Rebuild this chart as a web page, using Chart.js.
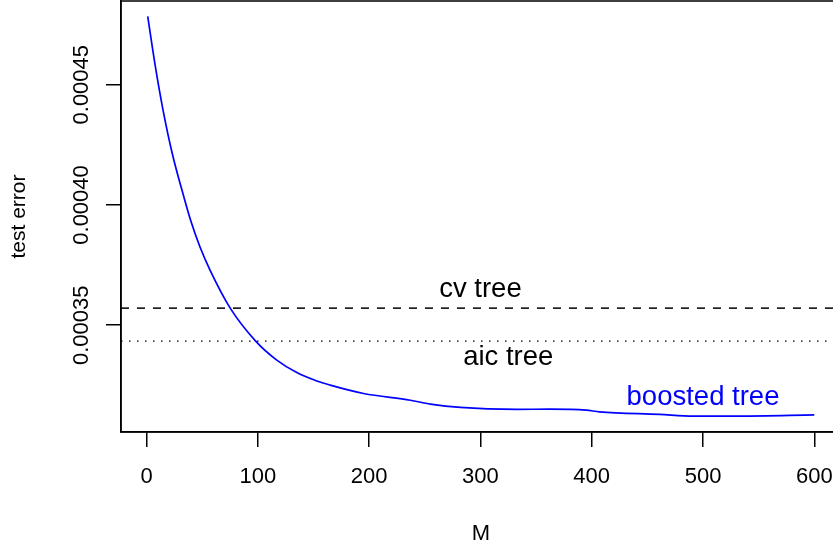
<!DOCTYPE html>
<html>
<head>
<meta charset="utf-8">
<script src="https://cdn.jsdelivr.net/npm/chart.js@4"></script>
<style>
  html, body { margin: 0; padding: 0; background: #fff; overflow: hidden; }
  #wrap { width: 833px; height: 550px; overflow: hidden; }
</style>
</head>
<body>
<div id="wrap"><canvas id="chart" width="850" height="550"></canvas></div>
<script>
// boosting iterations M and test error
var mValues = [1, 8, 15, 23, 34, 40, 48, 57, 75, 98, 117, 135, 153, 165, 195, 237, 255, 282, 333, 362, 395, 407, 461, 491, 533, 600];
var testError = [0.0004784, 0.0004572, 0.0004389, 0.0004215, 0.0004025, 0.0003930, 0.0003825, 0.0003729, 0.0003572, 0.0003434,
                 0.0003355, 0.0003303, 0.0003268, 0.0003251, 0.0003216, 0.0003188, 0.0003172, 0.0003158, 0.0003150, 0.0003151,
                 0.0003147, 0.0003140, 0.0003129, 0.0003122, 0.0003122, 0.0003127];
var cvTree = 0.0003571;
var aicTree = 0.0003434;

var xTicks = [0, 100, 200, 300, 400, 500, 600];
var yTicks = [0.00035, 0.00040, 0.00045];
var xRange = [-23, 624];
var yRange = [0.0003056, 0.0004848];

var fontFam = "'Liberation Sans', Arial, Helvetica, sans-serif";

var curve = [];
for (var i = 0; i < mValues.length; i++) curve.push({x: mValues[i], y: testError[i]});

// text labels written inside the plot (data coordinates)
var notes = [
	{text: "cv tree", x: 300, y: 0.000365, color: "black"},
	{text: "aic tree", x: 325, y: 0.0003366, color: "black"},
	{text: "boosted tree", x: 500, y: 0.00032, color: "#0000ff"}
];

var boxPlugin = {
	id: "box",
	afterDatasetsDraw: function(chart) {
		var c = chart.ctx, a = chart.chartArea;
		var xs = chart.scales.x, ys = chart.scales.y;
		c.save();
		c.font = "27.5px " + fontFam;
		c.textAlign = "center";
		c.textBaseline = "middle";
		for (var n of notes) {
			c.fillStyle = n.color;
			c.fillText(n.text, xs.getPixelForValue(n.x), ys.getPixelForValue(n.y));
		}
		c.strokeStyle = "black";
		c.lineWidth = 1.5;
		c.strokeRect(a.left, a.top, a.right - a.left, a.bottom - a.top);
		c.restore();
	}
};

var ctx = document.getElementById("chart").getContext("2d");
var chart = new Chart(ctx, {
	type: "scatter",
	data: {
		datasets: [
			{
				label: "boosted tree",
				data: curve,
				showLine: true,
				borderColor: "#0000ff",
				borderWidth: 1.7,
				pointRadius: 0,
				cubicInterpolationMode: "monotone",
				fill: false
			},
			{
				label: "cv tree",
				data: [{x: xRange[0], y: cvTree}, {x: xRange[1], y: cvTree}],
				showLine: true,
				borderColor: "black",
				borderWidth: 1.5,
				borderDash: [8, 8],
				pointRadius: 0
			},
			{
				label: "aic tree",
				data: [{x: xRange[0], y: aicTree}, {x: xRange[1], y: aicTree}],
				showLine: true,
				borderColor: "black",
				borderWidth: 1.4,
				borderDash: [1.5, 6.5],
				pointRadius: 0
			}
		]
	},
	options: {
		responsive: false,
		animation: false,
		layout: { padding: { top: 1, right: 9, bottom: 0, left: 0 } },
		plugins: {
			legend: { display: false },
			tooltip: { enabled: false }
		},
		scales: {
			x: {
				type: "linear",
				min: xRange[0],
				max: xRange[1],
				afterBuildTicks: function(s) { s.ticks = xTicks.map(function(v) { return {value: v}; }); },
				afterFit: function(s) { s.height = 118; },
				grid: {
					drawOnChartArea: false,
					drawTicks: true,
					tickLength: 15,
					color: "black",
					lineWidth: 1.5
				},
				border: { display: true, color: "black", width: 1.5 },
				ticks: {
					color: "black",
					padding: 17,
					maxRotation: 0,
					font: { family: fontFam, size: 22 }
				},
				title: {
					display: true,
					text: "M",
					color: "black",
					padding: { top: 0, bottom: 3 },
					font: { family: fontFam, size: 22 }
				}
			},
			y: {
				type: "linear",
				min: yRange[0],
				max: yRange[1],
				afterBuildTicks: function(s) { s.ticks = yTicks.map(function(v) { return {value: v}; }); },
				afterFit: function(s) { s.width = 121; },
				grid: {
					drawOnChartArea: false,
					drawTicks: true,
					tickLength: 15,
					color: "black",
					lineWidth: 1.5
				},
				border: { display: true, color: "black", width: 1.5 },
				ticks: {
					color: "black",
					minRotation: 90,
					maxRotation: 90,
					crossAlign: "center",
					padding: -16,
					font: { family: fontFam, size: 22 },
					callback: function(v) { return v.toFixed(5); }
				},
				title: {
					display: true,
					text: "test error",
					color: "black",
					padding: { top: 7, bottom: 0 },
					font: { family: fontFam, size: 21 }
				}
			}
		}
	},
	plugins: [boxPlugin]
});
</script>
</body>
</html>
